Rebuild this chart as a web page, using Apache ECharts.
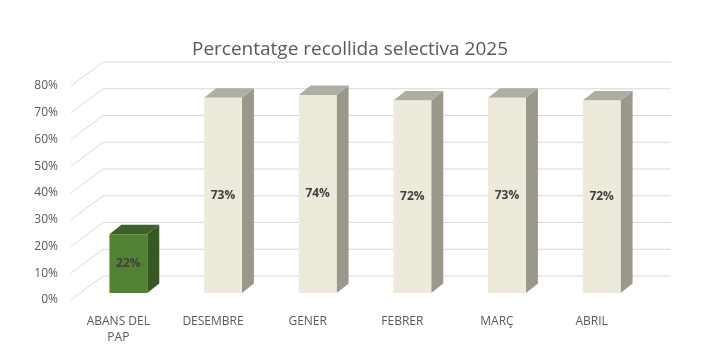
<!DOCTYPE html>
<html>
<head>
<meta charset="utf-8">
<script src="https://cdn.jsdelivr.net/npm/echarts@6/dist/echarts.min.js"></script>
<style>html,body{margin:0;padding:0;background:#fff}#c{width:713px;height:356px}</style>
</head>
<body>
<div id="c"></div>
<script>
const categories = ['ABANS DEL\nPAP', 'DESEMBRE', 'GENER', 'FEBRER', 'MARÇ', 'ABRIL'];
const values = [22, 73, 74, 72, 73, 72];
const yTicks = [0, 10, 20, 30, 40, 50, 60, 70, 80];
const titleText = 'Percentatge recollida selectiva 2025';

const FONT = 'Open Sans';
// perspective offsets (pixels)
const WALL_DX = 32, WALL_DY = -24;   // front plane -> back wall
const BAR_OX = 10, BAR_OY = -7;      // front plane -> bar front face
const BAR_DX = 12, BAR_DY = -9.5;    // bar depth
const BAR_W = 0.40;                  // fraction of band

const colors = [
  {front: '#548235', side: '#385723', top: '#3d6128'},
  {front: '#ede9db', side: '#9a978b', top: '#b0ada2'}
];

const chart = echarts.init(document.getElementById('c'), null, {renderer: 'canvas'});
chart.setOption({
  animation: false,
  backgroundColor: '#ffffff',
  title: {
    text: titleText,
    left: 345, top: 35, textAlign: 'center',
    textStyle: {fontFamily: FONT, fontSize: 19, fontWeight: 'normal', color: '#595959'}
  },
  grid: {left: 71, right: 74, top: 86, bottom: 56},
  xAxis: {
    type: 'category', data: categories,
    axisLine: {show: false}, axisTick: {show: false},
    axisLabel: {color: '#595959', fontFamily: FONT, fontSize: 12, margin: 14, lineHeight: 16, interval: 0}
  },
  yAxis: {
    type: 'value', min: 0, max: 80, interval: 10,
    axisLine: {show: false}, axisTick: {show: false}, splitLine: {show: false},
    axisLabel: {formatter: '{value}%', color: '#595959', fontFamily: FONT, fontSize: 12, margin: 13}
  },
  series: [
    {
      type: 'custom', z: 1, clip: false, silent: true,
      data: yTicks.map(v => [0, v]),
      renderItem: function (params, api) {
        const cs = params.coordSys;
        const y = api.coord([0, api.value(1)])[1];
        const l = cs.x, r = cs.x + cs.width;
        return {
          type: 'polyline',
          shape: {points: [[l, y], [l + WALL_DX, y + WALL_DY], [r + WALL_DX, y + WALL_DY]]},
          style: {stroke: '#d9d9d9', lineWidth: 1, fill: null}
        };
      }
    },
    {
      type: 'custom', z: 2, clip: false,
      data: values.map((v, i) => [i, v]),
      renderItem: function (params, api) {
        const i = api.value(0), v = api.value(1);
        const p0 = api.coord([i, 0]);
        const p1 = api.coord([i, v]);
        const bw = api.size([1, 0])[0];
        const w = bw * BAR_W;
        const x0 = p0[0] - w / 2 + BAR_OX;
        const yb = p0[1] + BAR_OY;
        const yt = p1[1] + BAR_OY;
        const c = colors[i === 0 ? 0 : 1];
        return {
          type: 'group',
          children: [
            {type: 'polygon', shape: {points: [[x0 + w, yt], [x0 + w + BAR_DX, yt + BAR_DY], [x0 + w + BAR_DX, yb + BAR_DY], [x0 + w, yb]]}, style: {fill: c.side}},
            {type: 'polygon', shape: {points: [[x0, yt], [x0 + BAR_DX, yt + BAR_DY], [x0 + w + BAR_DX, yt + BAR_DY], [x0 + w, yt]]}, style: {fill: c.top}},
            {type: 'rect', shape: {x: x0, y: yt, width: w, height: yb - yt}, style: {fill: c.front}},
            {type: 'text', x: x0 + w / 2, y: (yt + yb) / 2,
             style: {text: Math.round(v) + '%', fill: '#404040', font: 'bold 12px "' + FONT + '"', align: 'center', verticalAlign: 'middle'}}
          ]
        };
      }
    }
  ]
});
</script>
</body>
</html>
